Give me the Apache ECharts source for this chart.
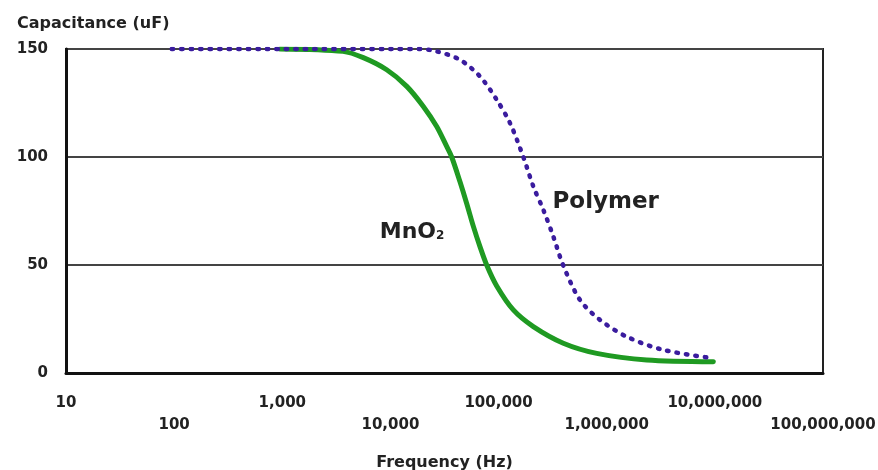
<!DOCTYPE html>
<html>
<head>
<meta charset="utf-8">
<script src="https://cdn.jsdelivr.net/npm/echarts@6/dist/echarts.min.js"></script>
<style>
html,body{margin:0;padding:0;background:#fff;}
#c{width:878px;height:470px;}
</style>
</head>
<body>
<div id="c"></div>
<script>
// Data
const mno2Freq = [953, 3640, 5610, 9240, 14160, 20150, 26790, 33130, 36870, 43990, 50720, 58370, 67300, 77620, 96100, 136900, 209500, 396900, 808600, 2345000, 9680000];
const mno2Cap  = [150, 148.9, 146.0, 140.4, 132.7, 123.4, 114.1, 104.9, 100, 88.5, 78.5, 68, 58.5, 50, 40.3, 29.2, 21.5, 13.8, 9.1, 6.0, 5.2];
const polyFreq = [95, 1000, 10000, 18790, 26790, 43990, 67300, 96100, 127600, 169500, 209500, 259200, 320800, 396900, 566200, 866400, 1531000, 3337000, 9680000];
const polyCap  = [150, 150, 150, 150, 148.9, 145, 137.3, 126.5, 115.7, 100, 86.4, 75.6, 63.2, 49.7, 33.8, 24.6, 16.8, 10.7, 6.8];
const yTicks = [0, 50, 100, 150];
const xLabels = ['10', '100', '1,000', '10,000', '100,000', '1,000,000', '10,000,000', '100,000,000'];

const FONT = 'DejaVu Sans';
const TXT = '#222';

const chart = echarts.init(document.getElementById('c'));
chart.setOption({
  backgroundColor: '#fff',
  animation: false,
  title: {
    text: 'Capacitance (uF)',
    left: 12, top: 11,
    textStyle: {fontFamily: FONT, fontWeight: 'bold', fontSize: 16, color: TXT}
  },
  grid: {
    left: 66, right: 55, top: 49, bottom: 97,
    containLabel: false, outerBoundsMode: 'none',
    show: true, borderColor: '#222', borderWidth: 2, backgroundColor: '#fff'
  },
  xAxis: {
    type: 'log', logBase: 10, min: 10, max: 1e8, splitNumber: 7,
    name: 'Frequency (Hz)', nameLocation: 'middle', nameGap: 82,
    nameTextStyle: {fontFamily: FONT, fontWeight: 'bold', fontSize: 16, color: TXT},
    axisLine: {show: true, lineStyle: {color: '#111', width: 3}},
    axisTick: {show: false},
    splitLine: {show: false},
    axisLabel: {
      margin: 19, lineHeight: 22,
      fontFamily: FONT, fontWeight: 'bold', fontSize: 15, color: TXT,
      formatter: function (v) {
        const e = Math.round(Math.log10(v));
        const lbl = xLabels[e - 1] || '';
        return (e % 2 === 0) ? '\n' + lbl : lbl;
      }
    }
  },
  yAxis: {
    type: 'value', min: yTicks[0], max: yTicks[yTicks.length - 1], interval: 50,
    axisLine: {show: true, lineStyle: {color: '#111', width: 3}},
    axisTick: {show: false},
    splitLine: {show: true, lineStyle: {color: '#444', width: 2}},
    axisLabel: {margin: 18, fontFamily: FONT, fontWeight: 'bold', fontSize: 15, color: TXT}
  },
  series: [
    {
      name: 'MnO2', type: 'line',
      data: mno2Freq.map((f, i) => [f, mno2Cap[i]]),
      smooth: 0.3, showSymbol: false, symbol: 'none',
      lineStyle: {color: '#1f9a22', width: 5, cap: 'round'},
      z: 3,
      markPoint: {
        symbol: 'circle', symbolSize: 0,
        label: {
          show: true, position: 'inside',
          formatter: '{a|MnO}{b|2}',
          rich: {
            a: {fontFamily: FONT, fontWeight: 'bold', fontSize: 22, color: TXT},
            b: {fontFamily: FONT, fontWeight: 'bold', fontSize: 12, color: TXT, padding: [8, 0, 0, 0]}
          }
        },
        data: [{coord: [15850, 65.3]}]
      }
    },
    {
      name: 'Polymer', type: 'line',
      data: polyFreq.map((f, i) => [f, polyCap[i]]),
      smooth: 0.3, showSymbol: false, symbol: 'none',
      lineStyle: {color: '#3a1c9e', width: 4.5, type: [1.5, 8], cap: 'round'},
      z: 4,
      markPoint: {
        symbol: 'circle', symbolSize: 0,
        label: {
          show: true, position: 'inside', formatter: 'Polymer',
          fontFamily: FONT, fontWeight: 'bold', fontSize: 23, color: TXT
        },
        data: [{coord: [979000, 79.1]}]
      }
    }
  ]
});
</script>
</body>
</html>
